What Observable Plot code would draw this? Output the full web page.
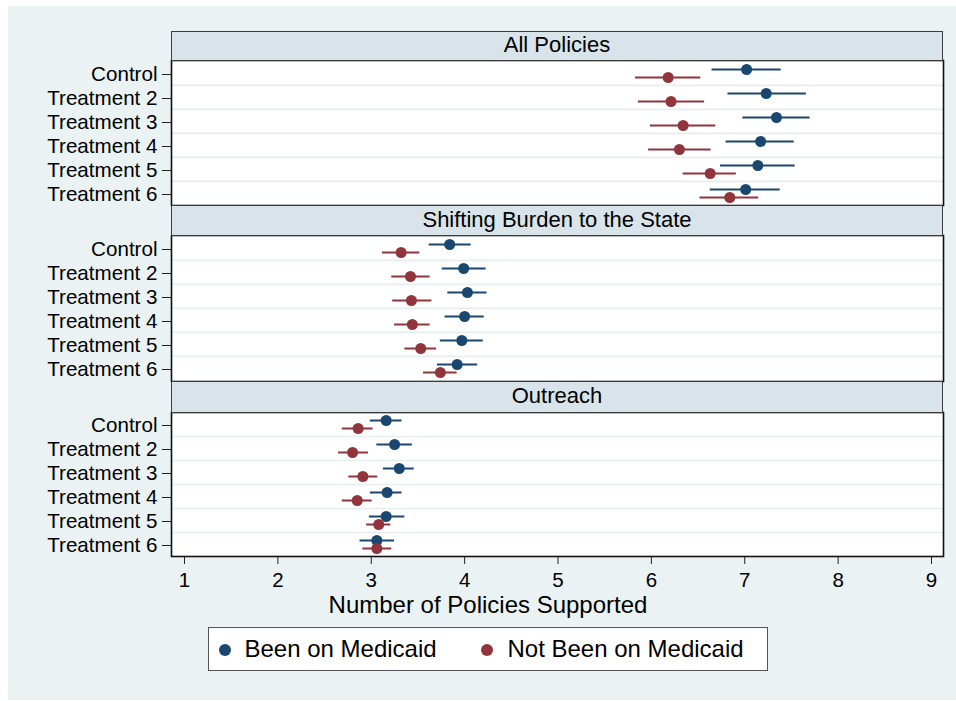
<!DOCTYPE html>
<html>
<head>
<meta charset="utf-8">
<script src="https://cdn.jsdelivr.net/npm/d3@7"></script>
<script src="https://cdn.jsdelivr.net/npm/@observablehq/plot@0.6"></script>
<style>
  html, body { margin: 0; padding: 0; background: #ffffff; }
  #root { position: relative; width: 956px; height: 701px; overflow: hidden; font-family: "Liberation Sans", Arial, sans-serif; }
  #bg { position: absolute; left: 8px; top: 6px; width: 948px; height: 694px; background: #eaf2f3; }
  .panel { position: absolute; left: 0; }
  .header { position: absolute; left: 171px; width: 772px; box-sizing: border-box; border: 1.5px solid #3c3c3c; background: #d8e4ea;
            display: flex; align-items: center; justify-content: center; font-size: 22px; color: #000; padding-bottom: 2px; }
  #xtitle { position: absolute; top: 591px; left: 288px; width: 400px; text-align: center; font-size: 24px; color: #000; }
  #legend { position: absolute; left: 208px; top: 627px; width: 560px; height: 44px; box-sizing: border-box; border: 1.5px solid #555; background: #fff; }
  .lg { position: absolute; top: 0; height: 41px; display: flex; align-items: center; font-size: 24px; color: #000; }
</style>
</head>
<body>
<div id="root">
  <div id="bg"></div>
</div>
<script>
// ---- data ----
const panels = ["All Policies", "Shifting Burden to the State", "Outreach"];
const rows = ["Control", "Treatment 2", "Treatment 3", "Treatment 4", "Treatment 5", "Treatment 6"];
const groups = ["Been on Medicaid", "Not Been on Medicaid"];
const groupColors = ["#1a476f", "#90353b"];
const xTicks = [1, 2, 3, 4, 5, 6, 7, 8, 9];
const xLabel = "Number of Policies Supported";

// [estimate, lower CI, upper CI] per row
const allBeen = [[7.02, 6.65, 7.39], [7.23, 6.82, 7.66], [7.34, 6.98, 7.70], [7.17, 6.80, 7.53], [7.14, 6.74, 7.54], [7.01, 6.63, 7.38]];
const allNot  = [[6.18, 5.83, 6.53], [6.21, 5.86, 6.57], [6.34, 5.99, 6.69], [6.30, 5.97, 6.64], [6.63, 6.34, 6.91], [6.84, 6.52, 7.15]];
const shiftBeen = [[3.84, 3.62, 4.07], [3.99, 3.76, 4.23], [4.03, 3.82, 4.24], [4.00, 3.79, 4.21], [3.97, 3.74, 4.20], [3.92, 3.71, 4.14]];
const shiftNot  = [[3.32, 3.12, 3.52], [3.42, 3.22, 3.63], [3.43, 3.23, 3.65], [3.44, 3.25, 3.63], [3.53, 3.36, 3.70], [3.74, 3.56, 3.92]];
const outBeen = [[3.16, 2.99, 3.33], [3.25, 3.06, 3.44], [3.30, 3.13, 3.46], [3.17, 2.99, 3.33], [3.16, 2.98, 3.36], [3.06, 2.88, 3.25]];
const outNot  = [[2.86, 2.69, 3.02], [2.80, 2.65, 2.97], [2.91, 2.76, 3.07], [2.85, 2.69, 3.01], [3.08, 2.95, 3.21], [3.06, 2.91, 3.22]];

const panelSeries = [[allBeen, allNot], [shiftBeen, shiftNot], [outBeen, outNot]];

// ---- layout ----
const W = 956;
const frameL = 171, frameR = 943;
const layout = [
  {headTop: 31, top: 60, bottom: 205},
  {headTop: 205, top: 235, bottom: 381},
  {headTop: 381, top: 412, bottom: 556}
];
const xDomain = [1 - 13 / 93.375, 9 + 12 / 93.375];
const font = "'Liberation Sans', Arial, sans-serif";

const root = document.getElementById("root");

panels.forEach((name, pi) => {
  const L = layout[pi];
  const withAxis = pi === panels.length - 1;
  const h = L.bottom - L.top;
  const mt = 2, mb = withAxis ? 42 : 2;
  const step = h / rows.length;
  const data = [];
  panelSeries[pi].forEach((series, gi) => {
    series.forEach((v, ri) => data.push({row: rows[ri], group: groups[gi], gi, est: v[0], lo: v[1], hi: v[2]}));
  });
  const been = data.filter(d => d.gi === 0);
  const notb = data.filter(d => d.gi === 1);
  const marks = [
    Plot.frame({fill: "white", stroke: "none"}),
    Plot.ruleY(rows.slice(1), {y: d => d, dy: -step / 2, stroke: "#e6eef0", strokeWidth: 1.6}),
    Plot.ruleY(been, {y: "row", x1: "lo", x2: "hi", dy: -4, stroke: groupColors[0], strokeWidth: 2}),
    Plot.dot(been, {x: "est", y: "row", dy: -4, r: 5.5, fill: groupColors[0], stroke: "none"}),
    Plot.ruleY(notb, {y: "row", x1: "lo", x2: "hi", dy: 4, stroke: groupColors[1], strokeWidth: 2}),
    Plot.dot(notb, {x: "est", y: "row", dy: 4, r: 5.5, fill: groupColors[1], stroke: "none"}),
    Plot.axisY({tickSize: 9, tickPadding: 5, fontSize: 20.6, dy: 1, label: null, stroke: "#222", fill: "#000"}),
    Plot.frame({stroke: "#111", strokeWidth: 1.6})
  ];
  if (withAxis) {
    marks.splice(marks.length - 1, 0, Plot.axisX({ticks: xTicks, tickSize: 8, tickPadding: 8, fontSize: 20.5, label: null, stroke: "#222", fill: "#000"}));
  }
  const plot = Plot.plot({
    width: W,
    height: h + mt + mb,
    marginLeft: frameL,
    marginRight: W - frameR,
    marginTop: mt,
    marginBottom: mb,
    style: {background: "transparent", fontFamily: font, fontSize: "20px", color: "#000", overflow: "visible"},
    x: {domain: xDomain, axis: withAxis ? undefined : null},
    y: {type: "point", domain: rows, padding: 0.5},
    marks
  });
  const wrap = document.createElement("div");
  wrap.className = "panel";
  wrap.style.top = (L.top - mt) + "px";
  wrap.appendChild(plot);
  root.appendChild(wrap);

  const head = document.createElement("div");
  head.className = "header";
  head.style.top = L.headTop + "px";
  head.style.height = (L.top - L.headTop + 1) + "px";
  head.textContent = name;
  root.appendChild(head);
});

// x-axis title
const xt = document.createElement("div");
xt.id = "xtitle";
xt.textContent = xLabel;
root.appendChild(xt);

// legend
const lg = document.createElement("div");
lg.id = "legend";
const lgPos = [[17, 37], [279, 300]];
groups.forEach((g, i) => {
  const sym = document.createElementNS("http://www.w3.org/2000/svg", "svg");
  sym.setAttribute("width", 14); sym.setAttribute("height", 14);
  sym.style.position = "absolute";
  sym.style.left = (lgPos[i][0] - 7 - 1.5) + "px";
  sym.style.top = (23 - 7 - 1.5) + "px";
  const c = document.createElementNS("http://www.w3.org/2000/svg", "circle");
  c.setAttribute("cx", 7); c.setAttribute("cy", 7); c.setAttribute("r", 6);
  c.setAttribute("fill", groupColors[i]);
  sym.appendChild(c);
  lg.appendChild(sym);
  const t = document.createElement("div");
  t.className = "lg";
  t.style.left = (lgPos[i][1] - 1.5) + "px";
  t.textContent = g;
  lg.appendChild(t);
});
root.appendChild(lg);
</script>
</body>
</html>
